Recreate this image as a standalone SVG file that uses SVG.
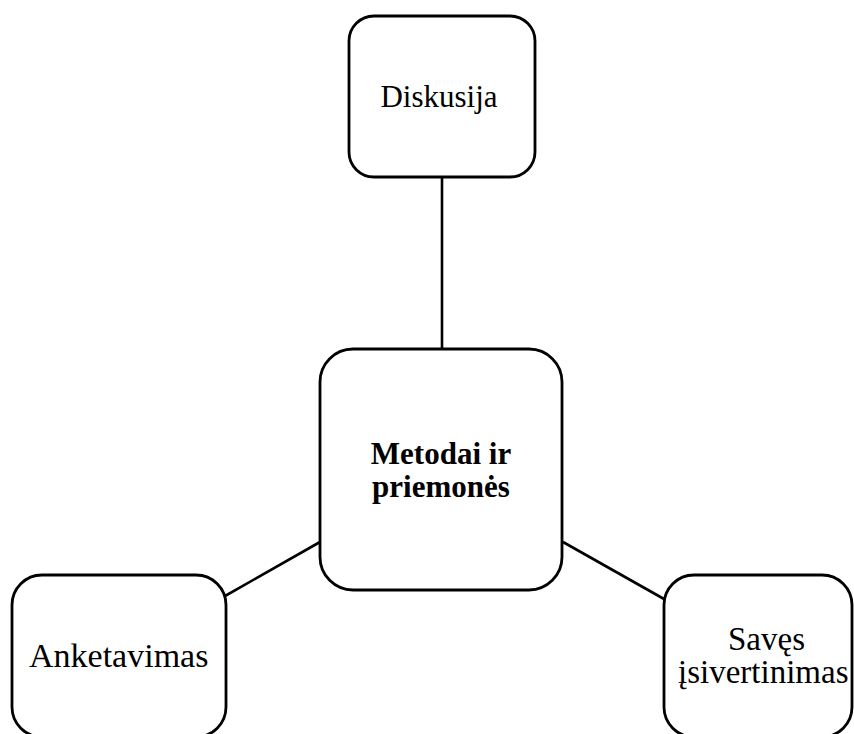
<svg xmlns="http://www.w3.org/2000/svg" width="854" height="734" viewBox="0 0 854 734">
  <style>
    .box { fill: #ffffff; stroke: #000000; stroke-width: 2.8; }
    .link { stroke: #000000; stroke-width: 2.6; fill: none; }
    .lbl { font-family: "Liberation Serif", "DejaVu Serif", serif; fill: #000000; }
  </style>
  <rect width="854" height="734" fill="#ffffff"/>

  <g id="connectors">
    <line class="link" x1="442" y1="177" x2="442" y2="349"/>
    <line class="link" x1="225" y1="596" x2="320" y2="542"/>
    <line class="link" x1="563" y1="542" x2="664" y2="599"/>
  </g>

  <g id="node-diskusija">
    <rect class="box" x="349" y="16" width="186" height="161" rx="25" ry="25"/>
    <text class="lbl" x="439" y="107" font-size="31" text-anchor="middle">Diskusija</text>
  </g>

  <g id="node-metodai">
    <rect class="box" x="320" y="349" width="242" height="241" rx="33" ry="33"/>
    <text class="lbl" x="441" y="464" font-size="31" font-weight="bold" text-anchor="middle">Metodai ir</text>
    <text class="lbl" x="441" y="497" font-size="31" font-weight="bold" text-anchor="middle">priemonės</text>
  </g>

  <g id="node-anketavimas">
    <rect class="box" x="12" y="575" width="214" height="162" rx="30" ry="30"/>
    <text class="lbl" x="29" y="667" font-size="34">Anketavimas</text>
  </g>

  <g id="node-saves">
    <rect class="box" x="664" y="575" width="188" height="162" rx="30" ry="30"/>
    <text class="lbl" x="728" y="650" font-size="33">Savęs</text>
    <text class="lbl" x="678" y="683" font-size="33">įsivertinimas</text>
  </g>
</svg>
